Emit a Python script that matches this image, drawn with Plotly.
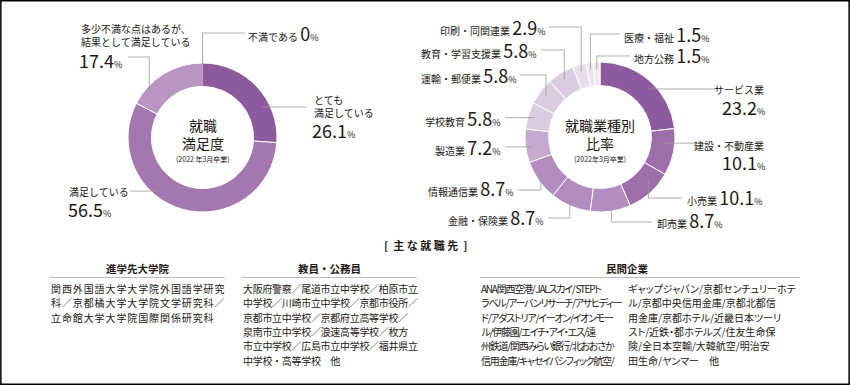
import math
import plotly.graph_objects as go

W, H = 850, 385

# ---------------- data ----------------
sat_labels = ["とても満足している", "満足している", "多少不満な点はあるが、結果として満足している", "不満である"]
sat_values = [26.1, 56.5, 17.4, 0]
sat_colors = ["#8e5a9e", "#a477b0", "#b995c3", "#d9c7df"]

ind_labels = ["サービス業", "建設・不動産業", "小売業", "卸売業", "金融・保険業", "情報通信業",
              "製造業", "学校教育", "運輸・郵便業", "教育・学習支援業", "印刷・同関連業", "医療・福祉", "地方公務"]
ind_values = [23.2, 10.1, 10.1, 8.7, 8.7, 8.7, 7.2, 5.8, 5.8, 5.8, 2.9, 1.5, 1.5]
ind_colors = ["#8e5a9e", "#9e6eab", "#9e6eab", "#b38dbf", "#b38dbf", "#b38dbf",
              "#c5a9ce", "#dccce2", "#dccce2", "#dccce2", "#e7dcea", "#ece3ef", "#f1eaf3"]

table_title = "[  主 な 就 職 先  ]"
col_headers = ["進学先大学院", "教員・公務員", "民間企業"]
col1_lines = ["関西外国語大学大学院外国語学研究",
              "科／京都橘大学大学院文学研究科／",
              "立命館大学大学院国際関係研究科"]
col2_lines = ["大阪府警察／尾道市立中学校／柏原市立",
              "中学校／川崎市立中学校／京都市役所／",
              "京都市立中学校／京都府立高等学校／",
              "泉南市立中学校／浪速高等学校／枚方",
              "市立中学校／広島市立中学校／福井県立",
              "中学校・高等学校　他"]
col3_lines = ["ANA関西空港／ JALスカイ／ STEPト",
              "ラベル／アーバンリサーチ／アサヒディー",
              "ド／アダストリア／イーオン／イオンモー",
              "ル／伊藤園／エイチ・アイ・エス／遠",
              "州鉄道／関西みらい銀行／北おおさか",
              "信用金庫／キャセイパシフィック航空／"]
col4_lines = ["ギャップジャパン／京都センチュリーホテ",
              "ル／京都中央信用金庫／京都北都信",
              "用金庫／京都ホテル／近畿日本ツーリ",
              "スト／近鉄・都ホテルズ／住友生命保",
              "険／全日本空輸／大韓航空／明治安",
              "田生命／ヤンマー　他"]

# ---------------- layout helpers ----------------
FONT = "Noto Sans CJK JP"
TXT = "#231815"
LINE = "#9a9a9a"
PALT = 'font-feature-settings:"palt" 1;font-variant-east-asian:proportional-width'


def X(px):
    return px / W


def Y(py):
    return 1 - py / H


L_CX, L_CY, L_R = 202.5, 137.5, 74.5
R_CX, R_CY, R_R = 600.0, 137.0, 75.0
HOLE = 0.685


def domain(cx, cy, r):
    return dict(x=[X(cx - r), X(cx + r)], y=[Y(cy + r), Y(cy - r)])


def fmt(v):
    return f"{v:g}"


def anchor(values, idx, frac, r, cx, cy):
    tot = sum(values)
    a0 = sum(values[:idx]) / tot * 360
    a1 = a0 + values[idx] / tot * 360
    th = math.radians(a0 + frac * (a1 - a0))
    return cx + r * math.sin(th), cy - r * math.cos(th)


fig = go.Figure()
fig.add_trace(go.Pie(values=sat_values, labels=sat_labels, marker=dict(colors=sat_colors, line=dict(color="white", width=1)),
                     hole=HOLE, sort=False, direction="clockwise", rotation=0, textinfo="none",
                     hoverinfo="label+value", showlegend=False, domain=domain(L_CX, L_CY, L_R)))
fig.add_trace(go.Pie(values=ind_values, labels=ind_labels, marker=dict(colors=ind_colors, line=dict(color="white", width=1)),
                     hole=HOLE, sort=False, direction="clockwise", rotation=0, textinfo="none",
                     hoverinfo="label+value", showlegend=False, domain=domain(R_CX, R_CY, R_R)))

shapes = []
annotations = []


def path_shape(pts):
    d = "M " + " L ".join(f"{X(x):.5f},{Y(y):.5f}" for x, y in pts)
    shapes.append(dict(type="path", path=d, xref="paper", yref="paper",
                       line=dict(color=LINE, width=0.8)))


def leader(values, idx, frac, r, cx, cy, route, x0, y0=None):
    ax, ay = anchor(values, idx, frac, r, cx, cy)
    if route == "h":
        path_shape([(x0, ay), (ax, ay)])
    else:
        path_shape([(x0, y0), (ax, y0), (ax, ay)])


def text(x, y, s, size=10, xanchor="left", bold=False, color=TXT, align=None):
    if bold:
        s = f"<b>{s}</b>"
    annotations.append(dict(x=X(x), y=Y(y), xref="paper", yref="paper", text=s, showarrow=False,
                            xanchor=xanchor, yanchor="middle", align=align or xanchor,
                            borderpad=0, font=dict(family=FONT, size=size, color=color)))


def num(v):
    return f"<span style='font-size:18px'>{fmt(v)}</span><span style='font-size:9px'>%</span>"


# ---- left donut labels ----
leader(sat_values, 3, 0.5, L_R * HOLE, L_CX, L_CY, "hv", 245, 33)
text(247, 33, sat_labels[3] + " " + num(sat_values[3]), xanchor="left")

leader(sat_values, 0, 0.67, 67, L_CX, L_CY, "h", 307)
text(313, 106, "とても<br>満足している")
text(311, 130, num(sat_values[0]))

leader(sat_values, 2, 0.21, 70, L_CX, L_CY, "hv", 128, 57)
text(80, 35, "多少不満な点はあるが、<br>結果として満足している")
text(78, 60, num(sat_values[2]))

leader(sat_values, 1, 0.62, 70, L_CX, L_CY, "h", 130)
text(68, 192, sat_labels[1])
text(67, 209, num(sat_values[1]))

# ---- right donut labels ----
left_side = [  # idx, frac, r, route, x0, y0, label_right_x, label_y
    (10, 0.5, 68, "hv", 549, 27, 547, 27),
    (9, 0.5, 68, "hv", 541, 50, 538, 50),
    (8, 0.5, 68, "hv", 520, 75, 518, 75),
    (7, 0.5, 68, "h", 505, None, 502, 118),
    (6, 0.44, 68, "h", 505, None, 502, 147),
    (5, 0.6, 70, "hv", 518, 190, 515, 188),
    (4, 0.6, 68, "hv", 548, 218, 545, 217),
]
for idx, frac, r, route, x0, y0, lx, ly in left_side:
    leader(ind_values, idx, frac, r, R_CX, R_CY, route, x0, y0)
    text(lx, ly, ind_labels[idx] + " " + num(ind_values[idx]), xanchor="right")

right_side = [
    (11, 0.5, 68, "hv", 620, 34, 623, 34),
    (12, 0.5, 68, "hv", 630, 56, 633, 55),
    (3, 0.45, 68, "hv", 652, 222, 656, 220),
    (2, 0.3, 64, "hv", 682, 198, 686, 197),
]
for idx, frac, r, route, x0, y0, lx, ly in right_side:
    leader(ind_values, idx, frac, r, R_CX, R_CY, route, x0, y0)
    text(lx, ly, ind_labels[idx] + " " + num(ind_values[idx]), xanchor="left")

leader(ind_values, 0, 0.54, 68, R_CX, R_CY, "h", 715)
text(765, 90, ind_labels[0], xanchor="right")
text(766, 107, num(ind_values[0]), xanchor="right")

leader(ind_values, 1, 0.33, 64, R_CX, R_CY, "h", 697)
text(765, 145, ind_labels[1], xanchor="right")
text(766, 162, num(ind_values[1]), xanchor="right")

# ---- centre texts ----
text(L_CX, 125, "就職", size=14, xanchor="center")
text(L_CX, 143, "満足度", size=14, xanchor="center")
text(L_CX, 158.5, "(2022 年3月卒業)", size=7, xanchor="center")
text(R_CX, 125, "就職業種別", size=14, xanchor="center")
text(R_CX, 143, "比率", size=14, xanchor="center")
text(R_CX, 159, "(2022年3月卒業)", size=7, xanchor="center")

# ---- table ----
text(425, 245, table_title, size=11, xanchor="center", bold=True)
heads = [(col_headers[0], 137.5, 50, 225), (col_headers[1], 329.5, 242, 417), (col_headers[2], 627, 480, 800)]
for h, cx, x0, x1 in heads:
    text(cx, 268.5, h, size=10.5, xanchor="center", bold=True)
    shapes.append(dict(type="line", xref="paper", yref="paper", x0=X(x0), x1=X(x1), y0=Y(277.5), y1=Y(277.5),
                       line=dict(color="#bdbdbd", width=1)))

ROW0, ROWH = 288.5, 14.3
cols = [(col1_lines, 50, "letter-spacing:0.9px"),
        (col2_lines, 242, "letter-spacing:-0.3px"),
        (col3_lines, 480, PALT + ";letter-spacing:-1.25px"),
        (col4_lines, 627, PALT)]
for lines, x, css in cols:
    for i, s in enumerate(lines):
        t = f"<span style='{css}'>{s}</span>" if css else s
        text(x, ROW0 + i * ROWH, t, size=10)

# frame
shapes.append(dict(type="rect", xref="paper", yref="paper", x0=0.001, x1=0.999, y0=0.002, y1=0.998,
                   line=dict(color="black", width=1.5)))

fig.update_layout(width=W, height=H, margin=dict(l=0, r=0, t=0, b=0), paper_bgcolor="white",
                  plot_bgcolor="white", font=dict(family=FONT, color=TXT), shapes=shapes,
                  annotations=annotations)
fig.write_html("out.html", config={"displayModeBar": False},
               post_script="document.body.style.margin='0px';")
